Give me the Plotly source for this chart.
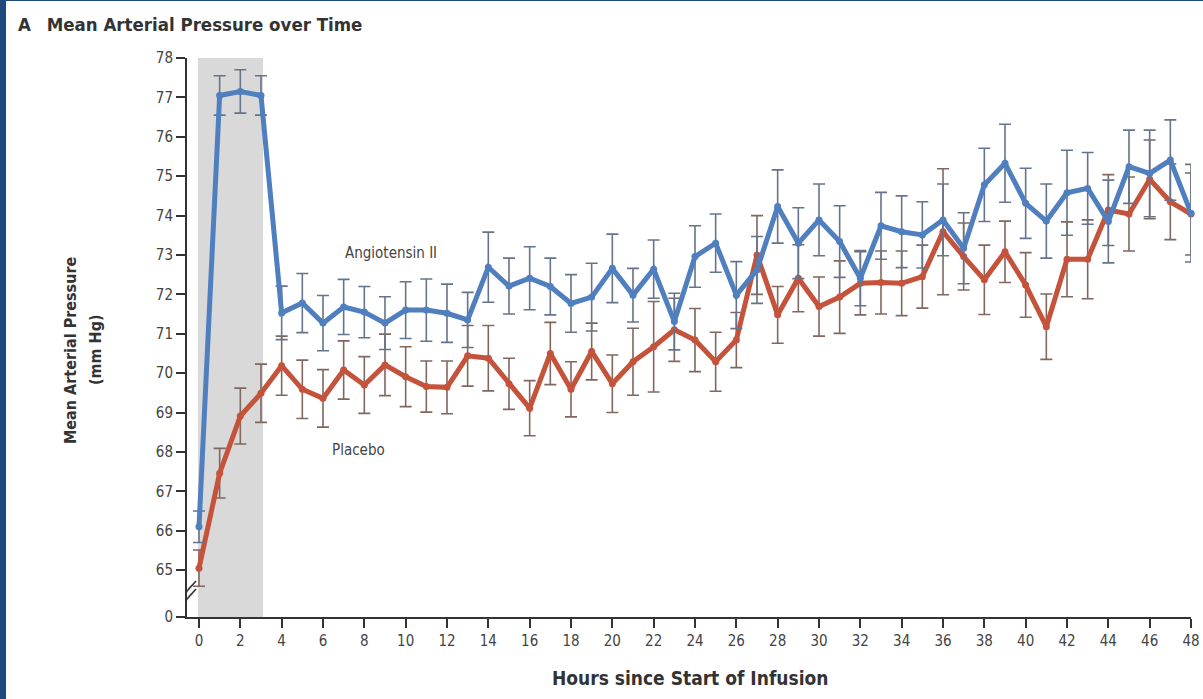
import plotly.graph_objects as go

hours = list(range(0, 49))

angiotensin = [66.10, 77.05, 77.15, 77.05, 71.53, 71.78, 71.27, 71.68, 71.55, 71.27,
               71.60, 71.60, 71.52, 71.35, 72.69, 72.21, 72.41, 72.20, 71.77, 71.93,
               72.66, 71.98, 72.64, 71.31, 72.96, 73.30, 71.98, 72.62, 74.23, 73.30,
               73.89, 73.34, 72.41, 73.74, 73.59, 73.51, 73.89, 73.17, 74.78, 75.33,
               74.31, 73.86, 74.58, 74.69, 73.85, 75.24, 75.07, 75.41, 74.06]
angiotensin_err = [0.40, 0.50, 0.55, 0.50, 0.68, 0.75, 0.70, 0.70, 0.65, 0.67,
                   0.72, 0.79, 0.74, 0.70, 0.89, 0.71, 0.80, 0.72, 0.73, 0.86,
                   0.87, 0.68, 0.74, 0.72, 0.78, 0.74, 0.85, 0.85, 0.93, 0.90,
                   0.91, 0.91, 0.70, 0.85, 0.91, 0.84, 0.91, 0.90, 0.93, 0.99,
                   0.89, 0.94, 1.08, 0.91, 1.05, 0.93, 1.10, 1.02, 1.24]

placebo = [65.05, 67.46, 68.91, 69.49, 70.19, 69.59, 69.36, 70.08, 69.70, 70.21,
           69.91, 69.66, 69.64, 70.44, 70.38, 69.73, 69.11, 70.50, 69.59, 70.55,
           69.73, 70.29, 70.67, 71.10, 70.84, 70.29, 70.84, 73.00, 71.48, 72.41,
           71.69, 71.93, 72.28, 72.30, 72.28, 72.45, 73.59, 72.96, 72.37, 73.08,
           72.24, 71.18, 72.89, 72.89, 74.14, 74.04, 74.92, 74.35, 74.04]
placebo_err = [0.46, 0.63, 0.71, 0.74, 0.75, 0.74, 0.73, 0.74, 0.72, 0.78,
               0.76, 0.65, 0.67, 0.77, 0.83, 0.65, 0.70, 0.79, 0.70, 0.72,
               0.73, 0.85, 1.15, 0.80, 0.80, 0.75, 0.70, 1.00, 0.72, 0.85,
               0.75, 0.92, 0.80, 0.80, 0.82, 0.80, 1.60, 0.85, 0.88, 0.78,
               0.82, 0.83, 0.95, 1.00, 0.90, 0.94, 1.00, 0.96, 1.04]

y_tick_vals = [63.81, 65, 66, 67, 68, 69, 70, 71, 72, 73, 74, 75, 76, 77, 78]
y_tick_text = ["0", "65", "66", "67", "68", "69", "70", "71", "72", "73", "74", "75", "76", "77", "78"]
x_tick_vals = list(range(0, 49, 2))

FONT = "DejaVu Sans Condensed, Liberation Sans Narrow, Open Sans, sans-serif"
BLUE = "#4f7fbe"
RED = "#c5523a"
AXIS = "#333333"
X_MIN, X_MAX = -0.58, 48.0
Y_MIN, Y_MAX = 63.81, 78.0
PW, PH = 1004, 559  # plot area size in px

fig = go.Figure()

fig.add_trace(go.Scatter(
    x=hours, y=placebo, mode="lines+markers", name="Placebo",
    line=dict(color=RED, width=5), marker=dict(color=RED, size=7),
    error_y=dict(type="data", array=placebo_err, visible=True,
                 color="#80675f", thickness=1.6, width=6),
    cliponaxis=False, showlegend=False))

fig.add_trace(go.Scatter(
    x=hours, y=angiotensin, mode="lines+markers", name="Angiotensin II",
    line=dict(color=BLUE, width=5), marker=dict(color=BLUE, size=7),
    error_y=dict(type="data", array=angiotensin_err, visible=True,
                 color="#65748a", thickness=1.6, width=6),
    cliponaxis=False, showlegend=False))

shapes = [
    dict(type="rect", xref="x", yref="y", x0=-0.05, x1=3.1, y0=Y_MIN, y1=Y_MAX,
         fillcolor="#d9d9d9", line=dict(width=0), layer="below"),
    dict(type="rect", xref="paper", yref="paper", x0=-187/PW, x1=-181/PW,
         y0=-82/PH, y1=1 + 58/PH, fillcolor="#1f4a7e", line=dict(width=0)),
    dict(type="rect", xref="paper", yref="paper", x0=-187/PW, x1=1 + 12/PW,
         y0=1 + 57/PH, y1=1 + 58/PH, fillcolor="#1f4a7e", line=dict(width=0)),
]
for off in (-4, 4):
    shapes.append(dict(type="line", xref="x", yref="y", xsizemode="pixel", ysizemode="pixel",
                       xanchor=X_MIN, yanchor=64.37, x0=-9, x1=9, y0=-10 + off, y1=10 + off,
                       line=dict(color=AXIS, width=1.6)))

fig.update_layout(
    template="none",
    width=1203, height=699, autosize=False,
    margin=dict(l=187, r=12, t=58, b=82, autoexpand=False),
    paper_bgcolor="white", plot_bgcolor="white",
    font=dict(family=FONT, color="#444444", size=14),
    shapes=shapes,
    xaxis=dict(range=[X_MIN, X_MAX], tickvals=x_tick_vals, ticks="outside", ticklen=9,
               tickwidth=2, tickcolor=AXIS, showline=True, linecolor=AXIS, linewidth=2,
               showgrid=False, zeroline=False, automargin=False,
               tickfont=dict(size=15, family=FONT, color="#444")),
    yaxis=dict(range=[Y_MIN, Y_MAX], tickvals=y_tick_vals, ticktext=y_tick_text,
               ticks="outside", ticklen=9, tickwidth=2, tickcolor=AXIS,
               showline=True, linecolor=AXIS, linewidth=2, showgrid=False, zeroline=False,
               automargin=False, tickfont=dict(size=15, family=FONT, color="#444")),
    annotations=[
        dict(text="<b>A</b>   <b>Mean Arterial Pressure over Time</b>", xref="paper", yref="paper",
             x=-171/PW, y=1 + 34/PH, xanchor="left", yanchor="middle", showarrow=False,
             font=dict(size=18.5, family=FONT, color="#333")),
        dict(text="<b>Hours since Start of Infusion</b>", xref="paper", yref="paper",
             x=0.501, y=-61/PH, xanchor="center", yanchor="middle", showarrow=False,
             font=dict(size=19, family=FONT, color="#333")),
        dict(text="<b>Mean Arterial Pressure</b>", xref="paper", yref="paper",
             x=-117/PW, y=(617 - 350) / PH, xanchor="center", yanchor="middle",
             textangle=-90, showarrow=False, font=dict(size=16, family=FONT, color="#333")),
        dict(text="<b>(mm Hg)</b>", xref="paper", yref="paper",
             x=-92/PW, y=(617 - 350) / PH, xanchor="center", yanchor="middle",
             textangle=-90, showarrow=False, font=dict(size=16, family=FONT, color="#333")),
        dict(text="Angiotensin II", xref="x", yref="y", x=9.3, y=73.05, showarrow=False,
             font=dict(size=15, family=FONT, color="#444")),
        dict(text="Placebo", xref="x", yref="y", x=7.7, y=68.05, showarrow=False,
             font=dict(size=15, family=FONT, color="#444")),
    ],
)

fig.write_html("out.html", config={"responsive": False, "displayModeBar": False})
